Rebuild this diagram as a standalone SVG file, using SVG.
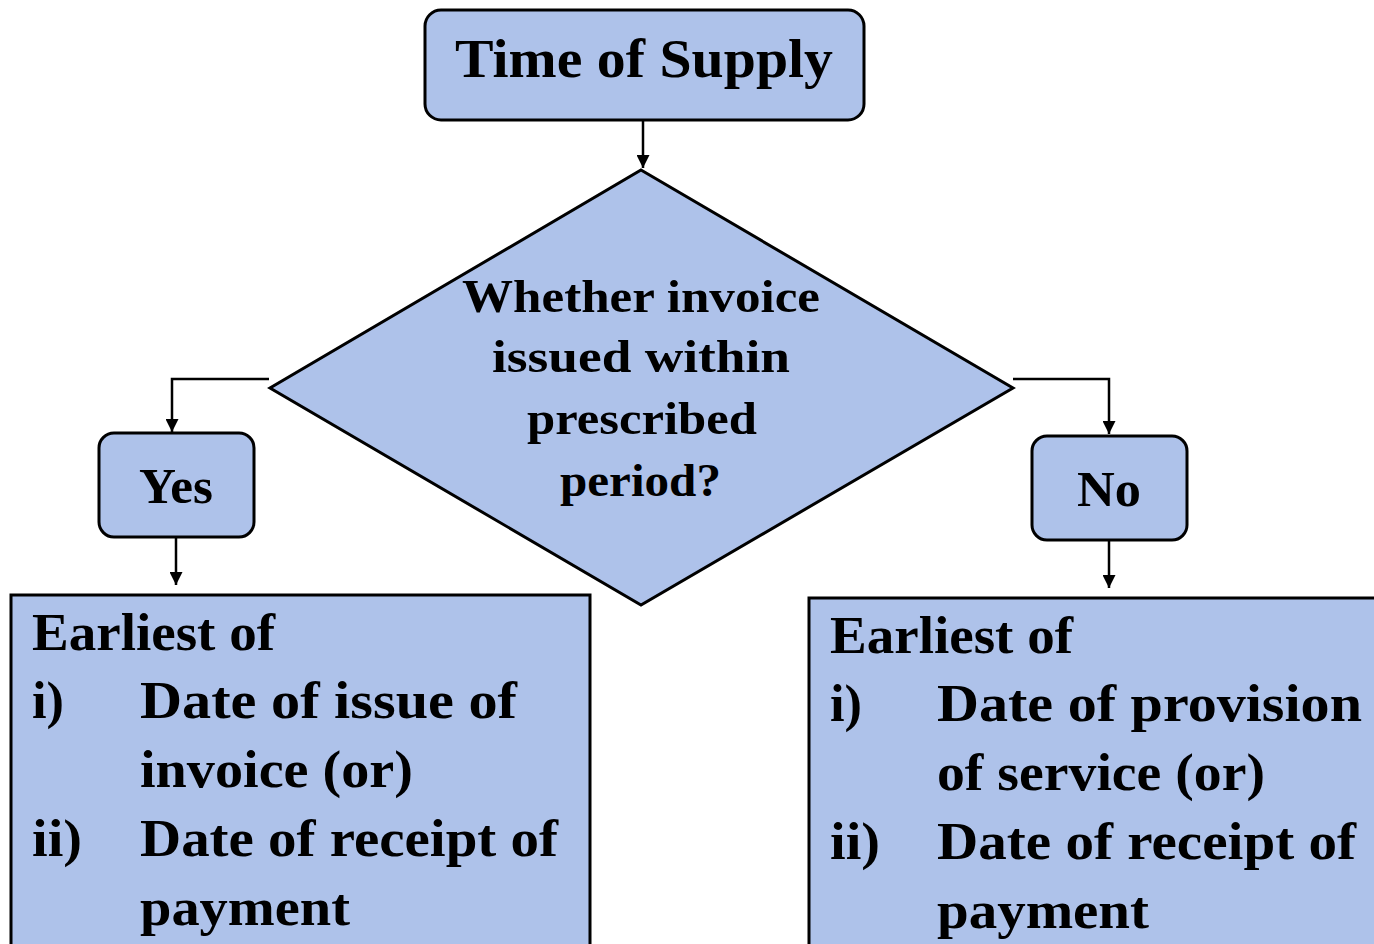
<svg xmlns="http://www.w3.org/2000/svg" width="1374" height="944" viewBox="0 0 1374 944">
  <style>
    .box { fill: #aec2ea; stroke: #000; stroke-width: 3; }
    .wire { fill: none; stroke: #000; stroke-width: 2.5; }
    .t { font-family: "Liberation Serif", "DejaVu Serif", serif; font-weight: bold; fill: #000; }
    .title { font-size: 54px; }
    .q { font-size: 46px; }
    .yn { font-size: 50px; }
    .body { font-size: 52px; }
  </style>
  <defs>
    <marker id="arrow" viewBox="0 0 10 10" refX="10" refY="5" markerWidth="15" markerHeight="13" markerUnits="userSpaceOnUse" orient="auto">
      <path d="M0,0 L10,5 L0,10 Z" fill="#000"/>
    </marker>
  </defs>

  <rect width="1374" height="944" fill="#fff"/>

  <!-- connectors -->
  <g id="connectors">
    <line class="wire" x1="643" y1="120" x2="643" y2="168" marker-end="url(#arrow)"/>
    <polyline class="wire" points="269,379 172,379 172,432" marker-end="url(#arrow)"/>
    <polyline class="wire" points="1013,379 1109,379 1109,434" marker-end="url(#arrow)"/>
    <line class="wire" x1="176" y1="537" x2="176" y2="585" marker-end="url(#arrow)"/>
    <line class="wire" x1="1109" y1="540" x2="1109" y2="588" marker-end="url(#arrow)"/>
  </g>

  <!-- start node -->
  <g id="time-of-supply">
    <rect class="box" x="425" y="10" width="439" height="110" rx="16"/>
    <text class="t title" x="455" y="77" textLength="378" lengthAdjust="spacingAndGlyphs">Time of Supply</text>
  </g>

  <!-- decision -->
  <g id="decision">
    <polygon class="box" points="641,170 1013,388 641,605 270,388"/>
    <text class="t q" x="462" y="312" textLength="358" lengthAdjust="spacingAndGlyphs">Whether invoice</text>
    <text class="t q" x="492" y="372" textLength="298" lengthAdjust="spacingAndGlyphs">issued within</text>
    <text class="t q" x="527" y="434" textLength="230" lengthAdjust="spacingAndGlyphs">prescribed</text>
    <text class="t q" x="560" y="496" textLength="161" lengthAdjust="spacingAndGlyphs">period?</text>
  </g>

  <!-- yes branch -->
  <g id="yes">
    <rect class="box" x="99" y="433" width="155" height="104" rx="15"/>
    <text class="t yn" x="139" y="503" textLength="74" lengthAdjust="spacingAndGlyphs">Yes</text>
  </g>

  <!-- no branch -->
  <g id="no">
    <rect class="box" x="1032" y="436" width="155" height="104" rx="15"/>
    <text class="t yn" x="1077" y="506" textLength="64" lengthAdjust="spacingAndGlyphs">No</text>
  </g>

  <!-- outcome when invoice is issued in time -->
  <g id="yes-result">
    <rect class="box" x="11" y="595" width="579" height="360"/>
    <text class="t body" x="32" y="650" textLength="243" lengthAdjust="spacingAndGlyphs">Earliest of</text>
    <text class="t body" x="32" y="718" textLength="32" lengthAdjust="spacingAndGlyphs">i)</text>
    <text class="t body" x="140" y="718" textLength="377" lengthAdjust="spacingAndGlyphs">Date of issue of</text>
    <text class="t body" x="140" y="787" textLength="273" lengthAdjust="spacingAndGlyphs">invoice (or)</text>
    <text class="t body" x="32" y="856" textLength="50" lengthAdjust="spacingAndGlyphs">ii)</text>
    <text class="t body" x="140" y="856" textLength="418" lengthAdjust="spacingAndGlyphs">Date of receipt of</text>
    <text class="t body" x="140" y="925" textLength="210" lengthAdjust="spacingAndGlyphs">payment</text>
  </g>

  <!-- outcome when invoice is not issued in time -->
  <g id="no-result">
    <rect class="box" x="809" y="598" width="580" height="360"/>
    <text class="t body" x="830" y="653" textLength="243" lengthAdjust="spacingAndGlyphs">Earliest of</text>
    <text class="t body" x="830" y="721" textLength="32" lengthAdjust="spacingAndGlyphs">i)</text>
    <text class="t body" x="937" y="721" textLength="425" lengthAdjust="spacingAndGlyphs">Date of provision</text>
    <text class="t body" x="937" y="790" textLength="328" lengthAdjust="spacingAndGlyphs">of service (or)</text>
    <text class="t body" x="830" y="859" textLength="50" lengthAdjust="spacingAndGlyphs">ii)</text>
    <text class="t body" x="937" y="859" textLength="419" lengthAdjust="spacingAndGlyphs">Date of receipt of</text>
    <text class="t body" x="937" y="928" textLength="212" lengthAdjust="spacingAndGlyphs">payment</text>
  </g>
</svg>
